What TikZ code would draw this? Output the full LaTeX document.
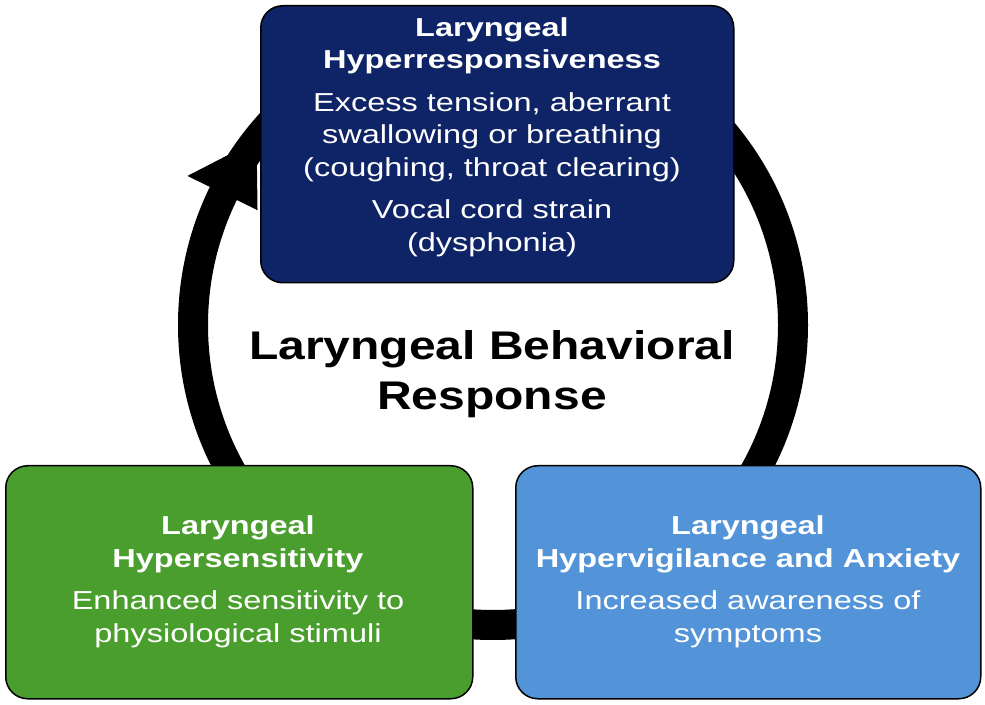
\documentclass[tikz,border=0pt]{standalone}
\usepackage{fontspec}
\setmainfont{Liberation Sans}
\usetikzlibrary{calc}
\definecolor{navy}{HTML}{0F2466}
\definecolor{grn}{HTML}{4A9E2E}
\definecolor{lblue}{HTML}{5393D8}
\begin{document}
\begin{tikzpicture}[x=1pt,y=1pt,
  box/.style={draw=black,line width=1.5pt,rounded corners=22pt,inner sep=0pt,anchor=north west},
  txt/.style={text=white,align=center,font=\fontsize{26}{32.5}\selectfont,xscale=1.25,transform shape}]
\useasboundingbox (0,0) rectangle (985,704);
\coordinate (c) at (493,379);
\draw[line width=30pt] (c) circle (300);
\fill ($(c)+(154:262)$) -- ($(c)+(154:340)$) -- ($(c)+(142:300)$) -- cycle;
\node[box,fill=navy,minimum width=473,minimum height=277] (top) at (260,699) {};
\node[txt,anchor=north] (toptxt) at (492,690) {\textbf{Laryngeal}\\\textbf{Hyperresponsiveness}\\[10pt]
  Excess tension, aberrant\\swallowing or breathing\\(coughing, throat clearing)\\[10pt]
  Vocal cord strain\\(dysphonia)};
\node[box,fill=grn,minimum width=467,minimum height=233] (left) at (5,239) {};
\node[txt] (lefttxt) at (238,122) {\textbf{Laryngeal}\\\textbf{Hypersensitivity}\\[10pt]
  Enhanced sensitivity to\\physiological stimuli};
\node[box,fill=lblue,minimum width=465,minimum height=233] (right) at (515,239) {};
\node[txt] (righttxt) at (748,122) {\textbf{Laryngeal}\\\textbf{Hypervigilance and Anxiety}\\[10pt]
  Increased awareness of\\symptoms};
\node[align=center,font=\bfseries\fontsize{40}{50}\selectfont,xscale=1.2,transform shape] (center) at (492,330) {Laryngeal Behavioral\\Response};
\end{tikzpicture}
\end{document}
